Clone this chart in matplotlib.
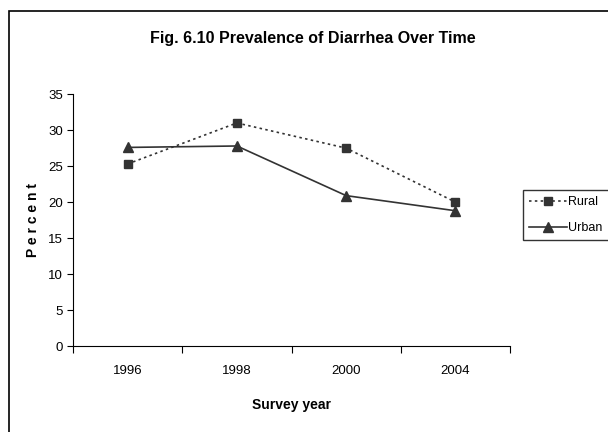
import matplotlib.pyplot as plt
from matplotlib import font_manager
from matplotlib.patches import Rectangle

years = ['1996', '1998', '2000', '2004']
rural = [25.3, 31.0, 27.5, 20.0]
urban = [27.6, 27.8, 20.9, 18.8]

names = {f.name for f in font_manager.fontManager.ttflist}
font = 'Liberation Sans Narrow' if 'Liberation Sans Narrow' in names else 'Liberation Sans'
plt.rcParams['font.family'] = [font, 'DejaVu Sans']

fig = plt.figure(figsize=(6.08, 4.32), dpi=100)
ax = fig.add_axes([0.120, 0.199, 0.719, 0.583])

x = list(range(len(years)))
line_col = '#333333'
ax.plot(x, rural, linestyle=(0, (1.5, 2)), color=line_col, lw=1.2,
        marker='s', markersize=5.5, label='Rural')
ax.plot(x, urban, linestyle='-', color=line_col, lw=1.2,
        marker='^', markersize=6.5, label='Urban')

ax.set_xlim(-0.5, len(years) - 0.5)
ax.set_ylim(0, 35)
ax.set_yticks(range(0, 36, 5))
ax.set_xticks(x)
ax.set_xticklabels(years)
ax.set_xticks([i - 0.5 for i in range(len(years) + 1)], minor=True)
ax.tick_params(axis='x', which='major', length=0, pad=14, labelsize=9.5)
ax.tick_params(axis='x', which='minor', length=5, direction='out', width=0.8)
ax.tick_params(axis='y', length=4, direction='out', width=0.8, labelsize=9.5, pad=3)

for s in ['top', 'right']:
    ax.spines[s].set_visible(False)
ax.spines['left'].set_linewidth(0.8)
ax.spines['bottom'].set_linewidth(0.8)

ax.set_xlabel('Survey year', fontsize=10, fontweight='bold', labelpad=15)
ax.set_ylabel('P e r c e n t', fontsize=10, fontweight='bold', labelpad=6)
fig.text(0.515, 0.912, 'Fig. 6.10 Prevalence of Diarrhea Over Time',
         ha='center', va='center', fontsize=11.5, fontweight='bold')

# legend box runs off the right edge like the original, keep the text inside
fig.legend(loc='center left', bbox_to_anchor=(0.860, 0.502),
           bbox_transform=fig.transFigure, frameon=True, fancybox=False,
           edgecolor='black', fontsize=9, handlelength=3.0,
           borderpad=0.5, labelspacing=1.1, handletextpad=0.1,
           borderaxespad=0)

fig.patches.append(Rectangle((9 / 608, -0.1), 1.2, 1 - 11 / 432 + 0.1,
                             transform=fig.transFigure, fill=False,
                             edgecolor='black', lw=1.2, clip_on=False))

fig.savefig('out.png', dpi=100)
